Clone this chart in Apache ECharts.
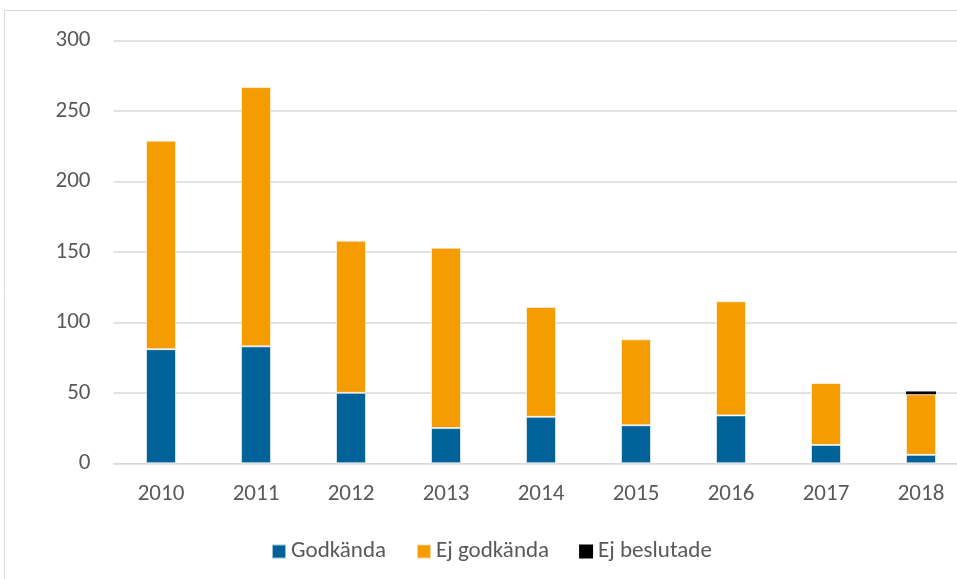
<!DOCTYPE html>
<html>
<head>
<meta charset="utf-8">
<script src="https://cdn.jsdelivr.net/npm/echarts@6/dist/echarts.min.js"></script>
<style>
  html, body { margin: 0; padding: 0; background: #fff; }
  #chart { width: 957px; height: 579px; }
</style>
</head>
<body>
<div id="chart"></div>
<script>
// years on the x axis
const years = ["2010", "2011", "2012", "2013", "2014", "2015", "2016", "2017", "2018"];

// stacked values
const godkanda = [81, 83, 50, 25, 33, 27, 34, 13, 6];
const ejGodkanda = [148, 184, 108, 128, 78, 61, 81, 44, 43];
const ejBeslutade = [0, 0, 0, 0, 0, 0, 0, 0, 2];

const yTicks = { min: 0, max: 300, interval: 50 };

const font = "Carlito, 'Liberation Sans', 'Noto Sans', sans-serif";
const textColor = "#595959";

const chart = echarts.init(document.getElementById("chart"));

const barStyle = (color) => ({
  color: color,
  borderColor: "rgba(255,255,255,0.6)",
  borderWidth: 1,
});

const option = {
  animation: false,
  textStyle: { fontFamily: font },
  graphic: [
    {
      type: "rect",
      shape: { x: 4.5, y: 10.5, width: 1200, height: 1200 },
      style: { fill: "none", stroke: "#d9d9d9", lineWidth: 1 },
      silent: true,
    },
  ],
  legend: {
    data: ["Godkända", "Ej godkända", "Ej beslutade"],
    left: 266,
    top: 535,
    itemWidth: 14,
    itemHeight: 14,
    itemGap: 30,
    icon: "rect",
    textStyle: { color: textColor, fontSize: 23, fontFamily: font },
  },
  grid: {
    left: 113.5,
    top: 40.6,
    width: 855,
    height: 422.7,
    outerBoundsMode: "none",
    containLabel: false,
  },
  xAxis: {
    type: "category",
    data: years,
    axisLine: { lineStyle: { color: "#d9d9d9" } },
    axisTick: { show: false },
    axisLabel: { color: textColor, fontSize: 23, margin: 19, fontFamily: font },
  },
  yAxis: {
    type: "value",
    min: yTicks.min,
    max: yTicks.max,
    interval: yTicks.interval,
    axisLine: { show: false },
    axisTick: { show: false },
    splitLine: { lineStyle: { color: "#d9d9d9", width: 1.5 } },
    axisLabel: { color: textColor, fontSize: 23, margin: 23, fontFamily: font },
  },
  series: [
    {
      name: "Godkända",
      type: "bar",
      stack: "total",
      barWidth: 30,
      data: godkanda,
      itemStyle: barStyle("#006299"),
    },
    {
      name: "Ej godkända",
      type: "bar",
      stack: "total",
      barWidth: 30,
      data: ejGodkanda,
      itemStyle: barStyle("#f59c00"),
    },
    {
      name: "Ej beslutade",
      type: "bar",
      stack: "total",
      barWidth: 30,
      data: ejBeslutade,
      itemStyle: { color: "#000000" },
    },
  ],
};

chart.setOption(option);
</script>
</body>
</html>
